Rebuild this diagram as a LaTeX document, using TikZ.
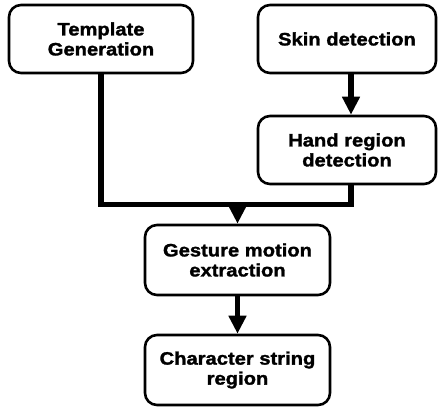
\documentclass[tikz,border=0pt]{standalone}
\usepackage{fontspec}
\setmainfont{Liberation Sans}[BoldFeatures={FakeStretch=1.12,FakeBold=1.6}]
\usetikzlibrary{arrows.meta}
\tikzset{
  stage/.style={draw=black, line width=2.6pt, rounded corners=12pt, fill=white,
    align=center, inner sep=0pt, font=\fontsize{18}{20}\selectfont\bfseries},
  link/.style={line width=5.5pt, line join=miter},
  flow/.style={link, -{Triangle[length=18pt,width=17pt]}}
}
\begin{document}
\begin{tikzpicture}[x=1pt,y=-1pt]
  \useasboundingbox (0,0) rectangle (438,408);
  % processing stages
  \node[stage, minimum width=184pt, minimum height=68pt] (tmpl) at (101,39) {Template\\Generation};
  \node[stage, minimum width=178pt, minimum height=68pt] (skin) at (347,39) {Skin detection};
  \node[stage, minimum width=178pt, minimum height=68pt] (hand) at (347,150) {Hand region\\detection};
  \node[stage, minimum width=185pt, minimum height=70pt] (gest) at (237.5,260) {Gesture motion\\extraction};
  \node[stage, minimum width=185pt, minimum height=70pt] (chars) at (237.5,370) {Character string\\region};
  % merge point of the two branches
  \coordinate (join) at (237.5,204.5);
  % connectors
  \draw[link] (tmpl.south) |- (351,204.5) -- (hand.south -| 351,0);
  \draw[flow] (skin.south -| 351,0) -- (hand.north -| 351,0);
  \draw[flow] (join) -- (gest.north);
  \draw[flow] (gest.south) -- (chars.north);
\end{tikzpicture}
\end{document}
